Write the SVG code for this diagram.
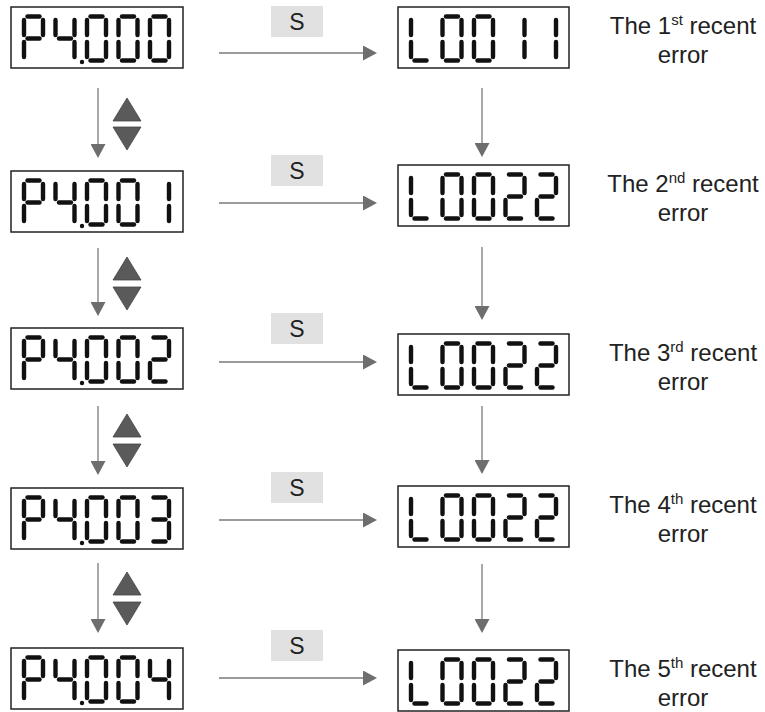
<svg xmlns="http://www.w3.org/2000/svg" xmlns:xlink="http://www.w3.org/1999/xlink" width="765" height="712" viewBox="0 0 765 712">
<style>
.box{fill:#fff;stroke:#222;stroke-width:1.5}
.seg{stroke:#111;stroke-width:4.4;stroke-linecap:round;fill:none}
.dot{fill:#111}
.sbox{fill:#e1e1e1}
.slabel{font-family:"Liberation Sans",Arial,sans-serif;font-size:23px;fill:#222;text-anchor:middle}
.note{font-family:"Liberation Sans",Arial,sans-serif;font-size:24px;fill:#222;text-anchor:middle}
.sup{font-size:15px}
.conn{stroke:#7a7a7a;stroke-width:1.3;fill:none}
.btn{fill:#5a5a5a;stroke:#444;stroke-width:0.8}
</style>
<defs>
<marker id="ah" viewBox="0 0 14 15" refX="10" refY="7.5" markerWidth="14" markerHeight="15" markerUnits="userSpaceOnUse" orient="auto">
<path d="M0,0 L14,7.5 L0,15 z" fill="#6e6e6e"/>
</marker>
<line id="sa" x1="3.5" y1="0" x2="15.5" y2="0"/>
<line id="sb" x1="19" y1="3.5" x2="19" y2="18.5"/>
<line id="sc" x1="19" y1="25.5" x2="19" y2="40.5"/>
<line id="sd" x1="3.5" y1="44" x2="15.5" y2="44"/>
<line id="se" x1="0" y1="25.5" x2="0" y2="40.5"/>
<line id="sf" x1="0" y1="3.5" x2="0" y2="18.5"/>
<line id="sg" x1="3.5" y1="22" x2="15.5" y2="22"/>
<g id="d0" class="seg"><use xlink:href="#sa"/><use xlink:href="#sb"/><use xlink:href="#sc"/><use xlink:href="#sd"/><use xlink:href="#se"/><use xlink:href="#sf"/></g>
<g id="d1" class="seg"><use xlink:href="#sb"/><use xlink:href="#sc"/></g>
<g id="d2" class="seg"><use xlink:href="#sa"/><use xlink:href="#sb"/><use xlink:href="#sg"/><use xlink:href="#se"/><use xlink:href="#sd"/></g>
<g id="d3" class="seg"><use xlink:href="#sa"/><use xlink:href="#sb"/><use xlink:href="#sg"/><use xlink:href="#sc"/><use xlink:href="#sd"/></g>
<g id="d4" class="seg"><use xlink:href="#sf"/><use xlink:href="#sg"/><use xlink:href="#sb"/><use xlink:href="#sc"/></g>
<g id="dP" class="seg"><use xlink:href="#sa"/><use xlink:href="#sb"/><use xlink:href="#sf"/><use xlink:href="#sg"/><use xlink:href="#se"/></g>
<g id="dL" class="seg"><use xlink:href="#sf"/><use xlink:href="#se"/><use xlink:href="#sd"/></g>
</defs>
<rect width="765" height="712" fill="#fff"/>

<g id="connectors">
<line class="conn" x1="219" y1="53" x2="373" y2="53" marker-end="url(#ah)"/>
<line class="conn" x1="219" y1="203" x2="373" y2="203" marker-end="url(#ah)"/>
<line class="conn" x1="219" y1="362" x2="373" y2="362" marker-end="url(#ah)"/>
<line class="conn" x1="219" y1="520" x2="373" y2="520" marker-end="url(#ah)"/>
<line class="conn" x1="219" y1="678" x2="373" y2="678" marker-end="url(#ah)"/>
<line class="conn" x1="98" y1="88" x2="98" y2="154" marker-end="url(#ah)"/>
<line class="conn" x1="98" y1="248" x2="98" y2="312" marker-end="url(#ah)"/>
<line class="conn" x1="98" y1="406" x2="98" y2="471" marker-end="url(#ah)"/>
<line class="conn" x1="98" y1="563" x2="98" y2="629" marker-end="url(#ah)"/>
<line class="conn" x1="482" y1="88" x2="482" y2="153" marker-end="url(#ah)"/>
<line class="conn" x1="482" y1="247" x2="482" y2="316" marker-end="url(#ah)"/>
<line class="conn" x1="482" y1="406" x2="482" y2="470" marker-end="url(#ah)"/>
<line class="conn" x1="482" y1="564" x2="482" y2="629" marker-end="url(#ah)"/>
</g>

<g id="s-labels">
<g id="s1"><rect class="sbox" x="271" y="6" width="52" height="31"/><text class="slabel" x="297" y="29.5">S</text></g>
<g id="s2"><rect class="sbox" x="271" y="155" width="52" height="31"/><text class="slabel" x="297" y="178.5">S</text></g>
<g id="s3"><rect class="sbox" x="271" y="313" width="52" height="31"/><text class="slabel" x="297" y="336.5">S</text></g>
<g id="s4"><rect class="sbox" x="271" y="472" width="52" height="31"/><text class="slabel" x="297" y="495.5">S</text></g>
<g id="s5"><rect class="sbox" x="271" y="630" width="52" height="31"/><text class="slabel" x="297" y="653.5">S</text></g>
</g>

<g id="updown-keys">
<g id="keys1"><polygon class="btn" points="127,98 141,121 113,121"/><polygon class="btn" points="113,127 141,127 127,150"/></g>
<g id="keys2"><polygon class="btn" points="127,257 141,280 113,280"/><polygon class="btn" points="113,287 141,287 127,310"/></g>
<g id="keys3"><polygon class="btn" points="127,414 141,437 113,437"/><polygon class="btn" points="113,444 141,444 127,467"/></g>
<g id="keys4"><polygon class="btn" points="127,572 141,595 113,595"/><polygon class="btn" points="113,602 141,602 127,625"/></g>
</g>

<g id="P4-000">
<rect class="box" x="11" y="7" width="172" height="61"/>
<use xlink:href="#dP" x="24" y="16.5"/><use xlink:href="#d4" x="55.5" y="16.5"/><circle class="dot" cx="82" cy="62" r="2.2"/><use xlink:href="#d0" x="87" y="16.5"/><use xlink:href="#d0" x="118.5" y="16.5"/><use xlink:href="#d0" x="150" y="16.5"/>
</g>
<g id="P4-001">
<rect class="box" x="11" y="171" width="172" height="61"/>
<use xlink:href="#dP" x="24" y="180.5"/><use xlink:href="#d4" x="55.5" y="180.5"/><circle class="dot" cx="82" cy="226" r="2.2"/><use xlink:href="#d0" x="87" y="180.5"/><use xlink:href="#d0" x="118.5" y="180.5"/><use xlink:href="#d1" x="150" y="180.5"/>
</g>
<g id="P4-002">
<rect class="box" x="11" y="328" width="172" height="61"/>
<use xlink:href="#dP" x="24" y="337.5"/><use xlink:href="#d4" x="55.5" y="337.5"/><circle class="dot" cx="82" cy="383" r="2.2"/><use xlink:href="#d0" x="87" y="337.5"/><use xlink:href="#d0" x="118.5" y="337.5"/><use xlink:href="#d2" x="150" y="337.5"/>
</g>
<g id="P4-003">
<rect class="box" x="11" y="488" width="172" height="61"/>
<use xlink:href="#dP" x="24" y="497.5"/><use xlink:href="#d4" x="55.5" y="497.5"/><circle class="dot" cx="82" cy="543" r="2.2"/><use xlink:href="#d0" x="87" y="497.5"/><use xlink:href="#d0" x="118.5" y="497.5"/><use xlink:href="#d3" x="150" y="497.5"/>
</g>
<g id="P4-004">
<rect class="box" x="11" y="648" width="172" height="61"/>
<use xlink:href="#dP" x="24" y="657.5"/><use xlink:href="#d4" x="55.5" y="657.5"/><circle class="dot" cx="82" cy="703" r="2.2"/><use xlink:href="#d0" x="87" y="657.5"/><use xlink:href="#d0" x="118.5" y="657.5"/><use xlink:href="#d4" x="150" y="657.5"/>
</g>

<g id="L0011">
<rect class="box" x="398" y="7" width="171" height="61"/>
<use xlink:href="#dL" x="411" y="16.5"/><use xlink:href="#d0" x="442.5" y="16.5"/><use xlink:href="#d0" x="474" y="16.5"/><use xlink:href="#d1" x="505.5" y="16.5"/><use xlink:href="#d1" x="537" y="16.5"/>
</g>
<g id="L0022-2">
<rect class="box" x="398" y="165" width="171" height="61"/>
<use xlink:href="#dL" x="411" y="174.5"/><use xlink:href="#d0" x="442.5" y="174.5"/><use xlink:href="#d0" x="474" y="174.5"/><use xlink:href="#d2" x="505.5" y="174.5"/><use xlink:href="#d2" x="537" y="174.5"/>
</g>
<g id="L0022-3">
<rect class="box" x="398" y="334" width="171" height="61"/>
<use xlink:href="#dL" x="411" y="343.5"/><use xlink:href="#d0" x="442.5" y="343.5"/><use xlink:href="#d0" x="474" y="343.5"/><use xlink:href="#d2" x="505.5" y="343.5"/><use xlink:href="#d2" x="537" y="343.5"/>
</g>
<g id="L0022-4">
<rect class="box" x="398" y="486" width="171" height="61"/>
<use xlink:href="#dL" x="411" y="495.5"/><use xlink:href="#d0" x="442.5" y="495.5"/><use xlink:href="#d0" x="474" y="495.5"/><use xlink:href="#d2" x="505.5" y="495.5"/><use xlink:href="#d2" x="537" y="495.5"/>
</g>
<g id="L0022-5">
<rect class="box" x="398" y="650" width="171" height="61"/>
<use xlink:href="#dL" x="411" y="659.5"/><use xlink:href="#d0" x="442.5" y="659.5"/><use xlink:href="#d0" x="474" y="659.5"/><use xlink:href="#d2" x="505.5" y="659.5"/><use xlink:href="#d2" x="537" y="659.5"/>
</g>

<g id="notes">
<g id="note1"><text class="note" x="683" y="33.5">The 1<tspan class="sup" dy="-9">st</tspan><tspan dy="9"> recent</tspan></text><text class="note" x="683" y="63">error</text></g>
<g id="note2"><text class="note" x="683" y="191.5">The 2<tspan class="sup" dy="-9">nd</tspan><tspan dy="9"> recent</tspan></text><text class="note" x="683" y="221">error</text></g>
<g id="note3"><text class="note" x="683" y="361">The 3<tspan class="sup" dy="-9">rd</tspan><tspan dy="9"> recent</tspan></text><text class="note" x="683" y="390">error</text></g>
<g id="note4"><text class="note" x="683" y="512.5">The 4<tspan class="sup" dy="-9">th</tspan><tspan dy="9"> recent</tspan></text><text class="note" x="683" y="542">error</text></g>
<g id="note5"><text class="note" x="683" y="677">The 5<tspan class="sup" dy="-9">th</tspan><tspan dy="9"> recent</tspan></text><text class="note" x="683" y="706">error</text></g>
</g>
</svg>
